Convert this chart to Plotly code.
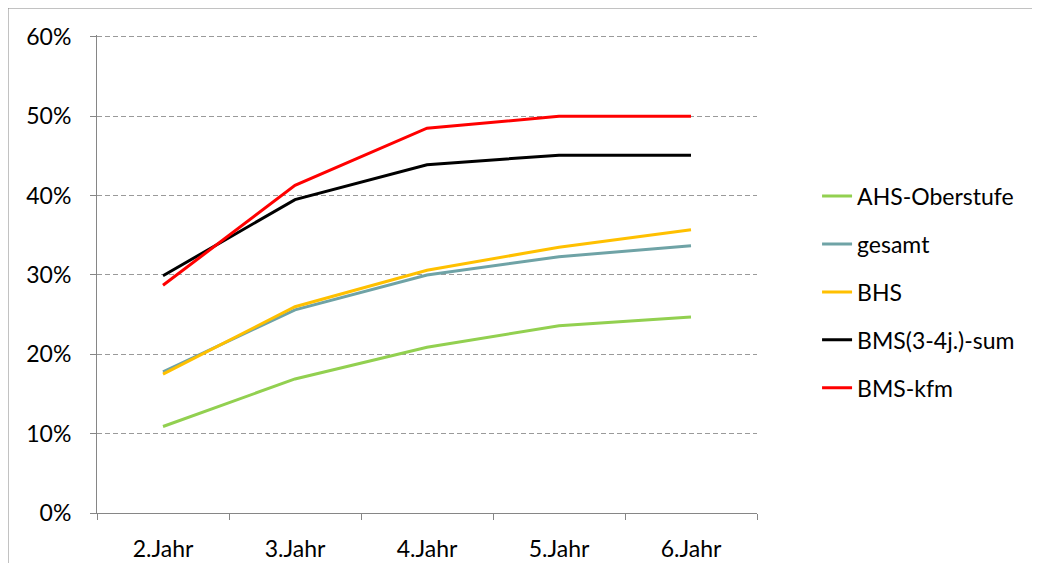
import plotly.graph_objects as go

# Jahre auf der x-Achse
jahre = ["2.Jahr", "3.Jahr", "4.Jahr", "5.Jahr", "6.Jahr"]

# Anteile in Prozent
ahs_oberstufe = [10.9, 16.9, 20.9, 23.6, 24.7]
gesamt = [17.8, 25.6, 30.0, 32.3, 33.7]
bhs = [17.5, 26.0, 30.6, 33.5, 35.7]
bms_sum = [29.9, 39.5, 43.9, 45.1, 45.1]
bms_kfm = [28.7, 41.3, 48.5, 50.0, 50.0]

namen = ["AHS-Oberstufe", "gesamt", "BHS", "BMS(3-4j.)-sum", "BMS-kfm"]
werte = [ahs_oberstufe, gesamt, bhs, bms_sum, bms_kfm]
farben = ["#92D050", "#6FA3A6", "#FFC000", "#000000", "#FF0000"]

schrift = "Lato"

fig = go.Figure()
for i, (n, w, f) in enumerate(zip(namen, werte, farben)):
    fig.add_trace(go.Scatter(
        x=jahre, y=[v / 100 for v in w],
        mode="lines", name=n,
        line=dict(color=f, width=3),
        legendgroup=str(i),
    ))

# die Seite hat 8px Rand, darum 1024x555
fig.update_layout(
    width=1024, height=555,
    margin=dict(l=89, r=275, t=27, b=50, autoexpand=False),
    plot_bgcolor="white",
    paper_bgcolor="white",
    font=dict(family=schrift, size=23, color="#000000"),
    showlegend=True,
    legend=dict(
        x=1.091, y=0.462, xanchor="left", yanchor="middle",
        tracegroupgap=15,
        font=dict(size=23),
        bgcolor="rgba(0,0,0,0)",
    ),
)

fig.update_xaxes(
    range=[-0.5, 4.5], automargin=False,
    showline=True, linecolor="#868686", linewidth=1,
    ticks="outside", tickson="boundaries", ticklen=6, tickcolor="#868686",
    showgrid=False, zeroline=False, ticklabelstandoff=15,
)
fig.update_yaxes(
    range=[0, 0.6025], dtick=0.1, tickformat=".0%", automargin=False,
    showline=True, linecolor="#868686", linewidth=1,
    ticks="outside", ticklen=6, tickcolor="#868686",
    showgrid=True, gridcolor="#9A9A9A", griddash="5px,3px", gridwidth=1.2,
    zeroline=False, ticklabelstandoff=14,
)

# Rahmen des Diagramms (nur links und oben sichtbar)
fig.add_shape(type="line", xref="paper", yref="paper",
              x0=-89 / 660, x1=-89 / 660, y0=-0.11, y1=1 + 27 / 478,
              line=dict(color="#868686", width=1))
fig.add_shape(type="line", xref="paper", yref="paper",
              x0=-89 / 660, x1=1.42, y0=1 + 27 / 478, y1=1 + 27 / 478,
              line=dict(color="#868686", width=1))

fig.write_html("out.html")
